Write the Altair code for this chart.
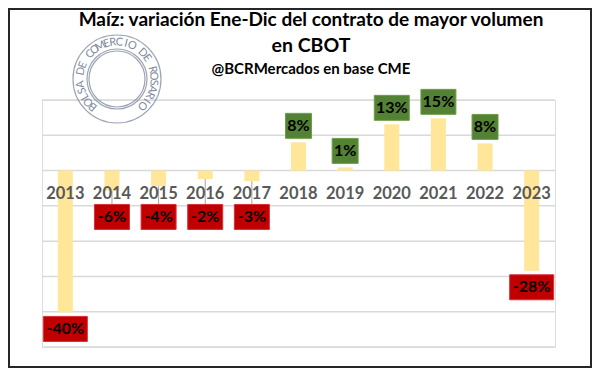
import altair as alt
import pandas as pd
import numpy as np

# ---- data ----
years = ["2013", "2014", "2015", "2016", "2017", "2018", "2019", "2020", "2021", "2022", "2023"]
values = [-40.2, -5.7, -4.4, -2.4, -3.0, 8.0, 0.9, 13.1, 14.8, 7.7, -28.4]
labels = ["-40%", "-6%", "-4%", "-2%", "-3%", "8%", "1%", "13%", "15%", "8%", "-28%"]

title1 = "Maíz: variación Ene-Dic del contrato de mayor volumen"
title2 = "en CBOT"
subtitle = "@BCRMercados en base CME"
logo_text = "BOLSA DE COMERCIO DE ROSARIO"

# ---- layout ----
W, H = 513, 247
PAD = {"left": 34, "top": 92, "right": 37, "bottom": 21}
YMIN, YMAX = -50, 20
ppu = H / (YMAX - YMIN)          # pixels per unit
box_h = 25 / ppu
gap = 4 / ppu

df = pd.DataFrame({"year": years, "value": values, "label": labels})
df["pos"] = df["value"] >= 0
df["top"] = np.where(df["pos"], df["value"] + gap + box_h,
                     np.minimum(df["value"] - gap, -9.6))
df["bottom"] = df["top"] - box_h
df["mid"] = (df["top"] + df["bottom"]) / 2
df["boxw"] = df["label"].str.len() * 9 + 8
df["fill"] = np.where(df["pos"], "#548235", "#C00000")
df["edge"] = np.where(df["pos"], "#6E9E48", "#D8303A")
df["zero"] = 0.0

FONT = "Lato"
xenc = alt.X("year:N", sort=years, scale=alt.Scale(paddingInner=0, paddingOuter=0),
             axis=None)
yscale = alt.Scale(domain=[YMIN, YMAX], nice=False, zero=False)

base = alt.Chart(df)

grid = alt.Chart(pd.DataFrame({"g": list(range(YMIN, YMAX + 1, 10))})).mark_rule(
    color="#D9D9D9", strokeWidth=1.5).encode(
    y=alt.Y("g:Q", scale=yscale, axis=None),
    x=alt.value(0), x2=alt.value(W))

bars = base.mark_bar(size=15, color="#FFE699").encode(
    x=xenc,
    y=alt.Y("value:Q", scale=yscale, axis=None),
    y2="zero:Q",
)

leaders = base.transform_filter("datum.value < 0 && datum.value > -10").mark_rule(
    color="#A6A6A6", strokeWidth=1).encode(
    x=xenc, y=alt.Y("value:Q", scale=yscale), y2="top:Q")

boxes = base.mark_bar(strokeWidth=1).encode(
    x=xenc,
    y=alt.Y("top:Q", scale=yscale),
    y2="bottom:Q",
    size=alt.Size("boxw:Q", scale=None, legend=None),
    fill=alt.Fill("fill:N", scale=None, legend=None),
    stroke=alt.Stroke("edge:N", scale=None, legend=None),
)

vals = base.mark_text(font=FONT, fontWeight="bold", fontSize=16, color="#000000",
                      baseline="middle", align="center").encode(
    x=xenc, y=alt.Y("mid:Q", scale=yscale), text="label:N")

yearlab = base.mark_text(font=FONT, fontWeight="bold", fontSize=16.5, color="#595959",
                         baseline="middle", align="center", dy=23).encode(
    x=xenc, y=alt.Y("zero:Q", scale=yscale), text="year:N")

# ---- titles (window coords minus page margin and padding) ----
def wx(x):
    return x - 8 - PAD["left"]

def wy(y):
    return y - 8 - PAD["top"]

tdf = pd.DataFrame({"t": [title1, title2, subtitle],
                    "x": [wx(311)] * 3, "y": [wy(20), wy(46), wy(69)],
                    "s": [19, 19.5, 15]})
titles = alt.Chart(tdf).mark_text(
    font=FONT, fontWeight="bold",
    color="#000000", baseline="middle", align="center").encode(
    x=alt.X("x:Q", scale=None), y=alt.Y("y:Q", scale=None), text="t:N",
    size=alt.Size("s:Q", scale=None, legend=None))

# ---- watermark seal ----
cx, cy = wx(117), wy(79)
rings = alt.Chart(pd.DataFrame({"d": [88, 60, 56]})).mark_point(
    shape="circle", filled=False, color="#8C96A8", strokeWidth=1.2, opacity=0.85).encode(
    x=alt.value(cx), y=alt.value(cy), size=alt.Size("d2:Q", scale=None, legend=None)
).transform_calculate(d2="datum.d * datum.d")

n = len(logo_text)
th = np.linspace(-139, 136.5, n)
ldf = pd.DataFrame({
    "ch": list(logo_text),
    "x": cx + 36.5 * np.sin(np.radians(th)),
    "y": cy - 36.5 * np.cos(np.radians(th)),
    "a": np.mod(th, 360),
})
letters = alt.Chart(ldf).mark_text(font="Lato", fontSize=11, color="#7F8A9E",
                                   baseline="middle", align="center").encode(
    x=alt.X("x:Q", scale=None), y=alt.Y("y:Q", scale=None), text="ch:N",
    angle=alt.Angle("a:Q", scale=None))

# ---- frame ----
frame = alt.Chart(pd.DataFrame({"k": [1]})).mark_rect(
    fill=None, stroke="#262626", strokeWidth=2).encode(
    x=alt.value(-PAD["left"] + 1), x2=alt.value(W + PAD["right"] - 1),
    y=alt.value(-PAD["top"] + 1), y2=alt.value(H + PAD["bottom"] - 1))

chart = alt.layer(grid, rings, letters, bars, leaders, boxes, vals, yearlab, titles, frame).properties(
    width=W, height=H,
    autosize=alt.AutoSizeParams(type="none"),
    padding=PAD,
).configure_view(stroke=None).configure(background="#FFFFFF")

chart.save("out.html", embed_options={"renderer": "svg", "actions": False})
